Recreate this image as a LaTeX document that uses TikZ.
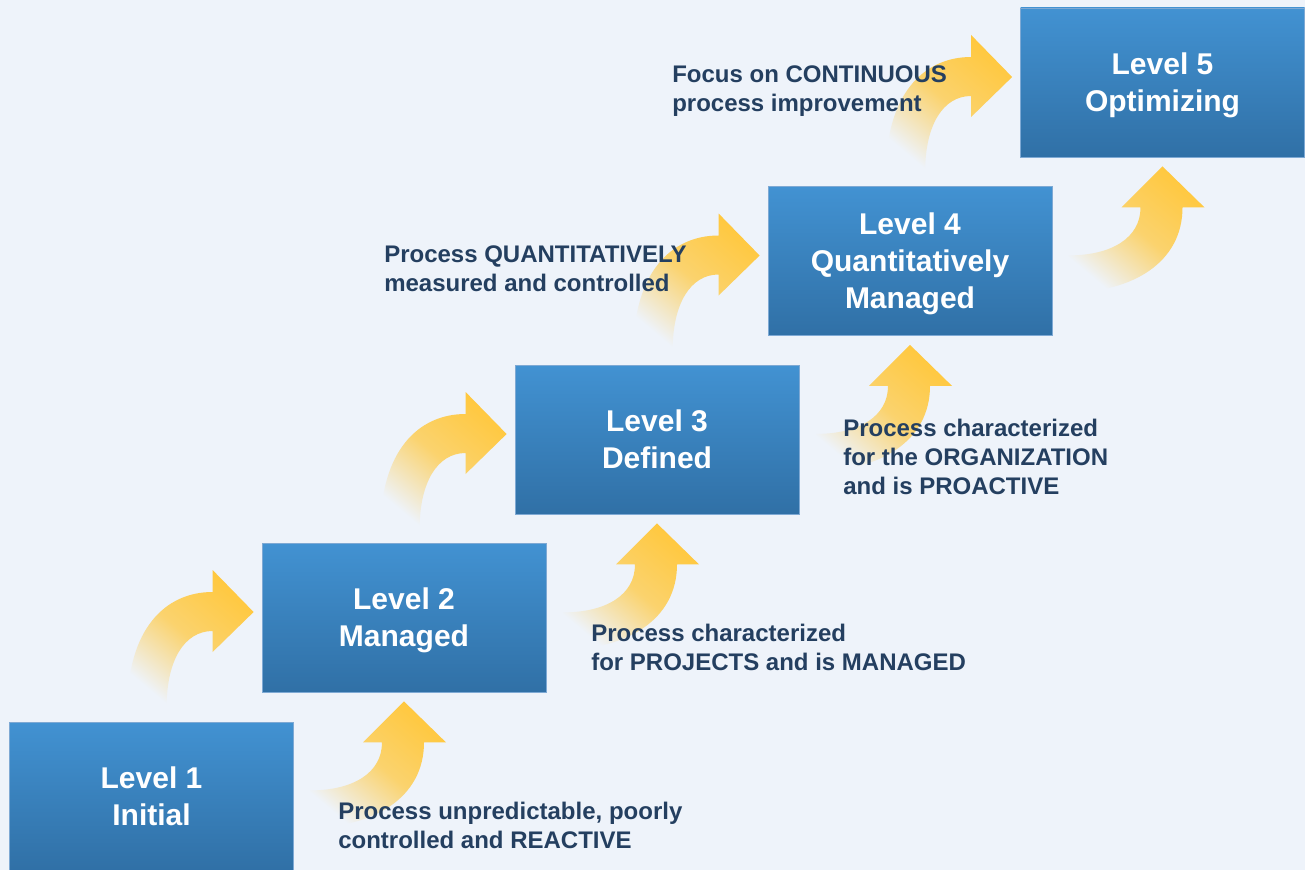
\documentclass[tikz,border=0pt]{standalone}
\usepackage{fontspec}
\setmainfont{Liberation Sans}
\usepackage{xcolor}

\definecolor{pagebg}{HTML}{EEF3FA}
\definecolor{boxtop}{HTML}{4292D2}
\definecolor{boxbot}{HTML}{3070A6}
\definecolor{boxrim}{HTML}{7EA9D4}
\definecolor{arrowy}{HTML}{FFC83F}
\definecolor{labelc}{HTML}{243F60}

\tikzset{
  level/.style={rectangle, draw=boxrim, line width=0.6pt,
    top color=boxtop, bottom color=boxbot,
    minimum width=213pt, minimum height=111.75pt,
    text=white, align=center, text depth=0pt,
    font=\fontsize{22.5}{27.75}\selectfont\bfseries},
  note/.style={anchor=north west, inner sep=0pt, text=labelc, align=left,
    font=\fontsize{18}{21.75}\selectfont\bfseries},
  stepup/.style={top color=arrowy, bottom color=pagebg,
    middle color=arrowy!75!pagebg, shading angle=-40}
}

\begin{document}
\begin{tikzpicture}[x=0.75pt, y=-0.75pt]
  \fill[pagebg] (0,0) rectangle (1305,870);
  \useasboundingbox (0,0) rectangle (1305,870);

  % the five levels
  \node[level] (L1) at (151.5,796.5) {Level 1\\Initial};
  \node[level] (L2) at (404,617.5) {Level 2\\Managed};
  \node[level] (L3) at (657,439.5) {Level 3\\Defined};
  \node[level] (L4) at (910,261) {Level 4\\Quantitatively\\Managed};
  \node[level] (L5) at (1162.5,82.5) {Level 5\\Optimizing};

  % curved arrows into each level
  \foreach \k in {2,...,5} {
    \begin{scope}[shift={(L\k.west)}]
      \shade[stepup] (-49,-25.5) -- (-49,-47.5) -- (-8,-5.5) -- (-49,34.5) -- (-49,13.5)
        .. controls (-77,13.5) and (-95,42.5) .. (-95,89.5) -- (-134,89.5)
        .. controls (-134,12.5) and (-97,-25.5) .. cycle;
    \end{scope}
    \begin{scope}[shift={(L\k.south)}]
      \shade[stepup] (-22,50) -- (-41,50) -- (0,9) -- (42,50) -- (20,50)
        .. controls (20,105) and (-30,135) .. (-94,135) -- (-94,98)
        .. controls (-50,98) and (-22,80) .. cycle;
    \end{scope}
  }

  % descriptions
  \node[note] (N1) at (338,802) {Process unpredictable, poorly\\controlled and REACTIVE};
  \node[note] (N2) at (591,624) {Process characterized\\for PROJECTS and is MANAGED};
  \node[note] (N3) at (843,419) {Process characterized\\for the ORGANIZATION\\and is PROACTIVE};
  \node[note] (N4) at (384,245) {Process QUANTITATIVELY\\measured and controlled};
  \node[note] (N5) at (672,65) {Focus on CONTINUOUS\\process improvement};
\end{tikzpicture}
\end{document}
